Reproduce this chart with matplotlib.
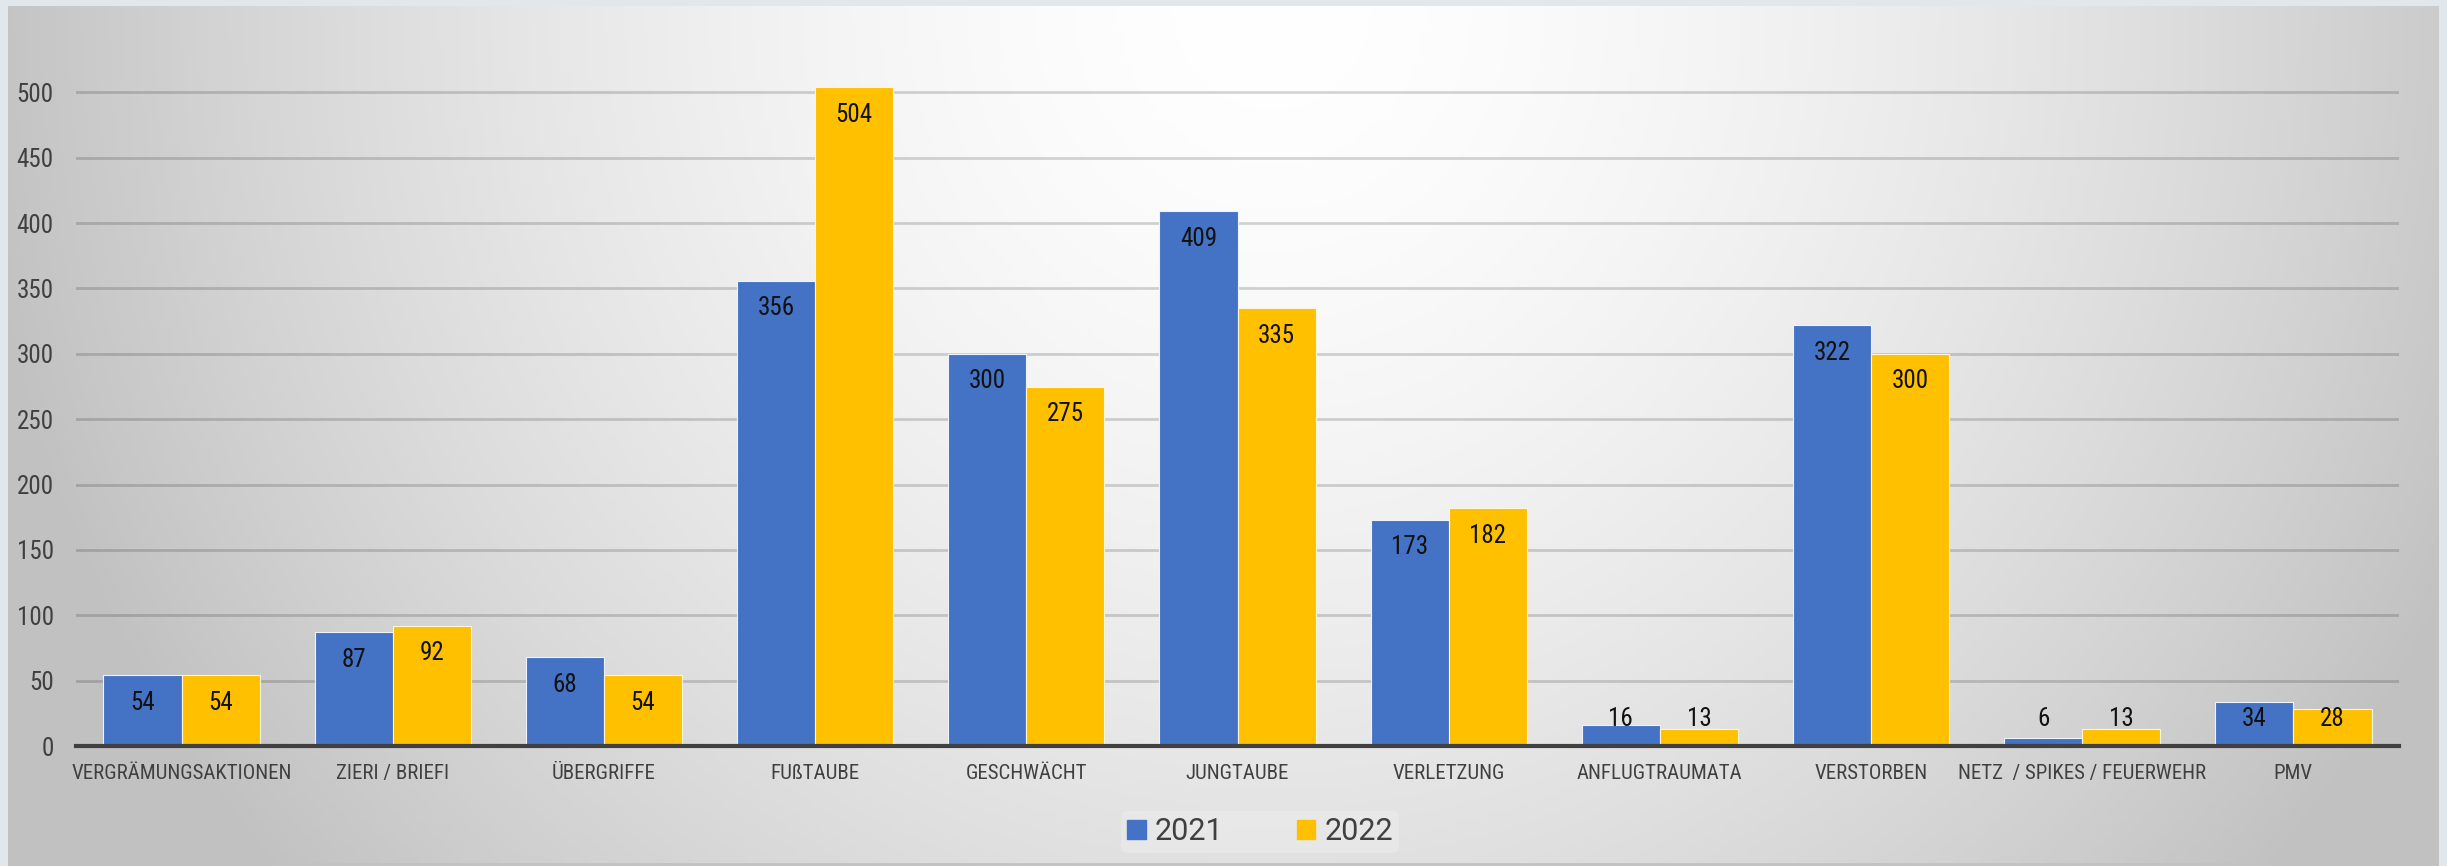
import numpy as np
import matplotlib.pyplot as plt
from matplotlib.patches import Rectangle

# chart data
categories = ['VERGRÄMUNGSAKTIONEN', 'ZIERI / BRIEFI', 'ÜBERGRIFFE', 'FUßTAUBE',
              'GESCHWÄCHT', 'JUNGTAUBE', 'VERLETZUNG', 'ANFLUGTRAUMATA',
              'VERSTORBEN', 'NETZ  / SPIKES / FEUERWEHR', 'PMV']
values_2021 = [54, 87, 68, 356, 300, 409, 173, 16, 322, 6, 34]
values_2022 = [54, 92, 54, 504, 275, 335, 182, 13, 300, 13, 28]
series_names = ['2021', '2022']
yticks = [0, 50, 100, 150, 200, 250, 300, 350, 400, 450, 500]

BLUE = '#4472C4'
YELLOW = '#FFC000'
FONT = ['Roboto Condensed', 'DejaVu Sans Condensed', 'Liberation Sans Narrow', 'DejaVu Sans']

W, H = 2447, 866
fig = plt.figure(figsize=(W / 100, H / 100), dpi=100)
fig.patch.set_facecolor('#e2e7eb')

# gradient background panel
bg = fig.add_axes([8 / W, 0, (2439 - 8) / W, 1 - 6 / H], zorder=-2)
gx, gy = np.meshgrid(np.linspace(0, 1, 600), np.linspace(0, 1, 250))
r = np.sqrt(((gx - 0.52) / 0.55) ** 2 + (gy / 1.6) ** 2)
shade = np.clip(1.0 - 0.25 * r ** 1.6, 0.76, 1.0)
bg.imshow(np.dstack([shade, shade, shade]), aspect='auto', extent=[0, 1, 1, 0])
bg.plot([0, 1], [0.002, 0.002], color='#c2c2c2', lw=2, transform=bg.transAxes)
bg.set_xlim(0, 1)
bg.set_ylim(1, 0)
bg.axis('off')

ax_left, ax_right = 76 / W, 2399 / W
y0_px, y550_px = 746, 27
ax = fig.add_axes([ax_left, 1 - y0_px / H, ax_right - ax_left, (y0_px - y550_px) / H])
ax.patch.set_alpha(0)

x = np.arange(len(categories))
bw = 0.37
ax.bar(x - bw / 2, values_2021, bw, color=BLUE, edgecolor='#eef2fa', linewidth=0.8, zorder=3)
ax.bar(x + bw / 2, values_2022, bw, color=YELLOW, edgecolor='#fff6dc', linewidth=0.8, zorder=3)

# data labels: inside end, pushed up when the bar is too short
for xs, vals in [(x - bw / 2, values_2021), (x + bw / 2, values_2022)]:
    for xi, v in zip(xs, vals):
        ax.text(xi, max(v - 21, 20.5), str(v), ha='center', va='center',
                fontsize=18, family=FONT, fontstretch='condensed', color='#111111', zorder=5)

ax.set_xlim(-0.5, len(categories) - 0.5)
ax.set_ylim(0, 550)
ax.set_yticks(yticks)
ax.set_xticks(x)
ax.set_xticklabels(categories)
for lab in ax.get_xticklabels():
    lab.set_family(FONT)
    lab.set_stretch('condensed')
    lab.set_fontsize(15)
    lab.set_color('#404040')
for lab in ax.get_yticklabels():
    lab.set_family(FONT)
    lab.set_stretch('condensed')
    lab.set_fontsize(18)
    lab.set_color('#404040')
ax.tick_params(axis='both', length=0)
ax.tick_params(axis='y', pad=16)
ax.tick_params(axis='x', pad=13)

for t in yticks[1:]:
    ax.axhline(t, color='black', alpha=0.16, lw=2.0, zorder=1)
for s in ['top', 'right', 'left']:
    ax.spines[s].set_visible(False)
ax.spines['bottom'].set_color('#404040')
ax.spines['bottom'].set_linewidth(3)
ax.spines['bottom'].set_zorder(4)

handles = [Rectangle((0, 0), 1, 1, color=BLUE), Rectangle((0, 0), 1, 1, color=YELLOW)]
leg = fig.legend(handles, series_names, loc='center', bbox_to_anchor=(1260 / W, 1 - 832 / H),
                 ncol=2, frameon=True, prop={'family': ['Roboto', 'DejaVu Sans'], 'size': 22},
                 handlelength=0.6, handleheight=0.6, handletextpad=0.3, columnspacing=2.4,
                 borderpad=0.2)
leg.get_frame().set_facecolor('#ececec')
leg.get_frame().set_edgecolor('none')
leg.get_frame().set_alpha(0.6)
for t in leg.get_texts():
    t.set_color('#404040')

fig.savefig('out.png', dpi=100, facecolor=fig.get_facecolor())
